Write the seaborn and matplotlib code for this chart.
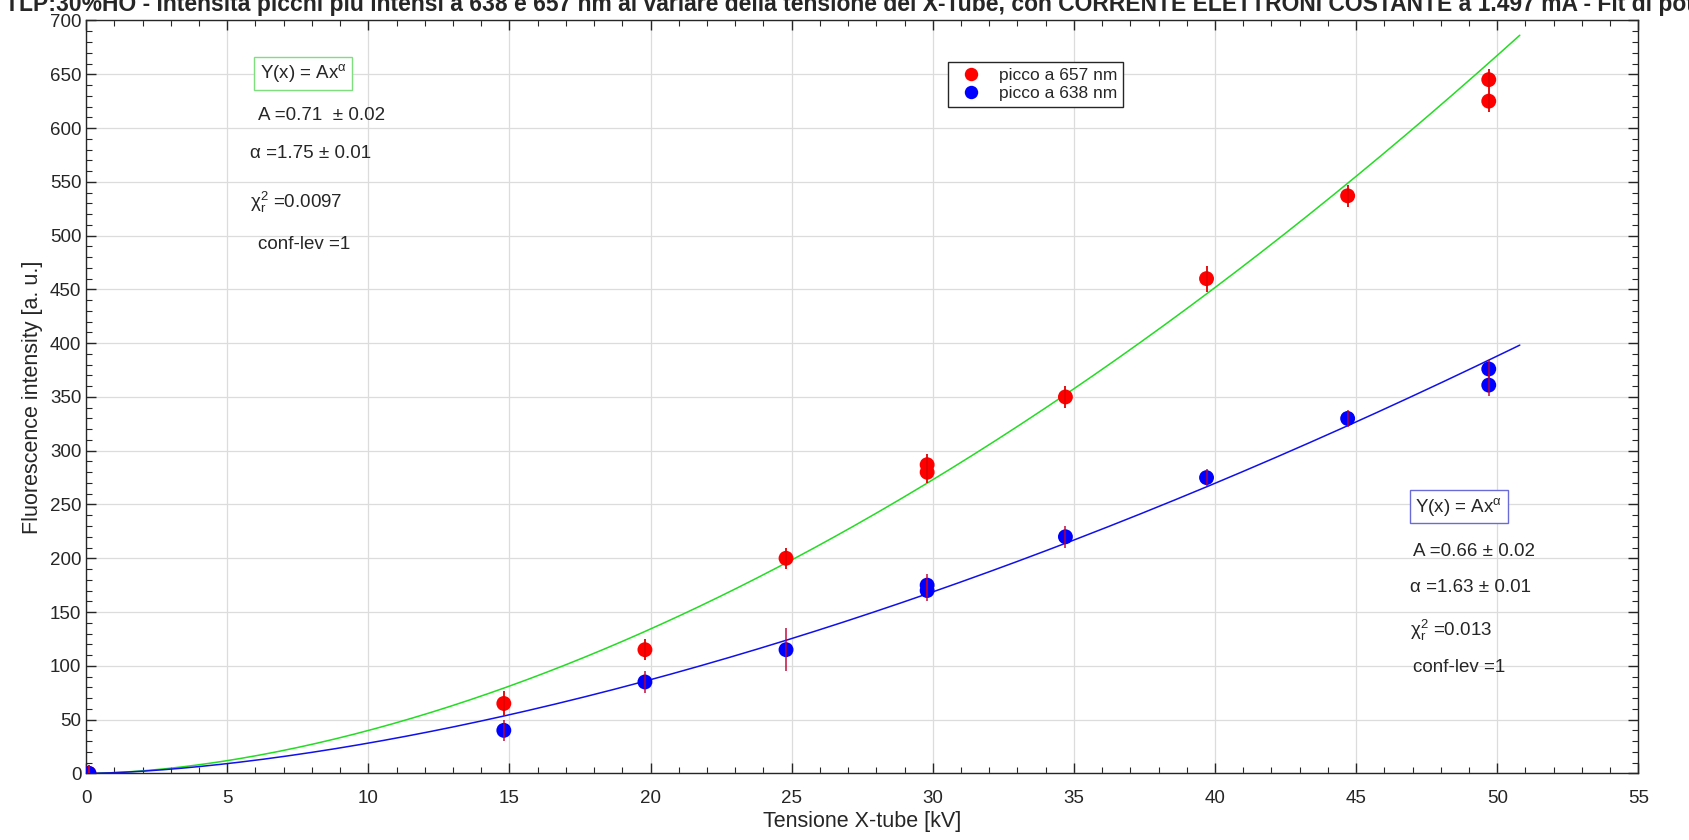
import matplotlib
matplotlib.use('Agg')
import matplotlib.pyplot as plt
from matplotlib.ticker import MultipleLocator
import seaborn as sns
import pandas as pd
import numpy as np

# measured peaks
x_657 = [0.1, 14.8, 19.8, 24.8, 29.8, 29.8, 34.7, 39.7, 44.7, 49.7, 49.7]
y_657 = [0, 65, 115, 200, 280, 287, 350, 460, 537, 625, 645]
e_657 = [8, 12, 10, 10, 10, 10, 10, 12, 10, 10, 10]

x_638 = [0.1, 14.8, 19.8, 24.8, 29.8, 29.8, 34.7, 39.7, 44.7, 49.7, 49.7]
y_638 = [0, 40, 85, 115, 170, 175, 220, 275, 330, 361, 376]
e_638 = [8, 10, 10, 20, 10, 10, 10, 8, 8, 10, 8]

# fit parameters Y(x) = A x^alpha (as printed on the chart)
A_657, alpha_657 = 0.71, 1.75
A_638, alpha_638 = 0.66, 1.63
x_fit_max = 50.8

title = ("TLP:30%HO - Intensità picchi più intensi a 638 e 657 nm al variare della tensione "
         "del X-Tube, con CORRENTE ELETTRONI COSTANTE a 1.497 mA - Fit di potenza")

sns.set_style('ticks')
plt.rcParams['font.family'] = ['Liberation Sans', 'DejaVu Sans']
plt.rcParams['mathtext.fontset'] = 'custom'
plt.rcParams['mathtext.rm'] = 'Liberation Sans'
plt.rcParams['mathtext.it'] = 'Liberation Sans'

fig = plt.figure(figsize=(16.89, 8.4), dpi=100)
ax = fig.add_axes([0.051, 0.0793, 0.919, 0.8963])

xf = np.linspace(0, x_fit_max, 300)
fit = pd.DataFrame({'x': np.concatenate([xf, xf]),
                    'y': np.concatenate([A_657 * xf ** alpha_657, A_638 * xf ** alpha_638]),
                    'serie': ['657'] * len(xf) + ['638'] * len(xf)})
sns.lineplot(data=fit, x='x', y='y', hue='serie', palette={'657': '#22dd22', '638': '#1010ee'},
             linewidth=1.1, legend=False, ax=ax, zorder=2)

pts = pd.DataFrame({'x': x_657 + x_638, 'y': y_657 + y_638,
                    'serie': ['picco a 657 nm'] * len(x_657) + ['picco a 638 nm'] * len(x_638)})
sns.scatterplot(data=pts, x='x', y='y', hue='serie',
                palette={'picco a 657 nm': '#ff0000', 'picco a 638 nm': '#0000ff'},
                s=115, edgecolor='none', ax=ax, zorder=3)
ax.errorbar(x_657, y_657, yerr=e_657, fmt='none', ecolor='#e00000', elinewidth=1.3, zorder=4)
ax.errorbar(x_638, y_638, yerr=e_638, fmt='none', ecolor='#c00030', elinewidth=1.3, alpha=0.8, zorder=4)

ax.set_xlim(0, 55)
ax.set_ylim(0, 700)
ax.xaxis.set_major_locator(MultipleLocator(5))
ax.xaxis.set_minor_locator(MultipleLocator(1))
ax.yaxis.set_major_locator(MultipleLocator(50))
ax.yaxis.set_minor_locator(MultipleLocator(10))
ax.grid(True, which='major', color='#dcdcdc', linewidth=0.9)
ax.set_axisbelow(True)
ax.tick_params(which='both', direction='in', top=True, right=True, colors='#262626',
               labelsize=13.5, labelcolor='#262626')
ax.tick_params(axis='x', which='major', pad=12)
ax.tick_params(which='major', length=7, width=1)
ax.tick_params(which='minor', length=4, width=0.8)
for s in ax.spines.values():
    s.set_color('#262626')
    s.set_linewidth(1)

ax.set_xlabel('Tensione X-tube [kV]', fontsize=15.5, color='#262626', labelpad=3)
ax.set_ylabel('Fluorescence intensity [a. u.]', fontsize=15.5, color='#262626', labelpad=5)

leg = ax.legend(loc='upper left', bbox_to_anchor=(0.5495, 0.957), fontsize=12.5, frameon=True,
                fancybox=False, edgecolor='#262626', handletextpad=0.6, borderpad=0.35,
                labelspacing=0.2, markerscale=0.9)
leg.get_frame().set_linewidth(1)
leg.get_frame().set_alpha(1)

# fit annotations
fs = 13.5
ax.text(6.15, 651, r'Y(x) = Ax$^{\mathregular{α}}$', fontsize=fs, va='center', ha='left', color='#262626',
        bbox=dict(boxstyle='square,pad=0.3', fc='white', ec='#7fdf7f', lw=1))
left_lines = [(6.1, 612, 'A =0.71  ± 0.02'), (5.8, 576, 'α =1.75 ± 0.01'),
              (5.8, 531, r'$\mathregular{χ_r^2}$ =0.0097'), (6.1, 492, 'conf-lev =1')]
for xx, yy, t in left_lines:
    ax.text(xx, yy, t, fontsize=fs, va='center', ha='left', color='#262626')

ax.text(47.1, 248, r'Y(x) = Ax$^{\mathregular{α}}$', fontsize=fs, va='center', ha='left', color='#262626',
        bbox=dict(boxstyle='square,pad=0.3', fc='white', ec='#6a6ad8', lw=1))
right_lines = [(47.0, 206, 'A =0.66 ± 0.02'), (46.9, 173, 'α =1.63 ± 0.01'),
               (46.9, 133, r'$\mathregular{χ_r^2}$ =0.013'), (47.0, 98, 'conf-lev =1')]
for xx, yy, t in right_lines:
    ax.text(xx, yy, t, fontsize=fs, va='center', ha='left', color='#262626')

fig.text(0.003, 1 - 11 / 840, title, fontsize=16.5, fontweight='bold', ha='left', va='baseline')

fig.savefig('out.png', dpi=100)
